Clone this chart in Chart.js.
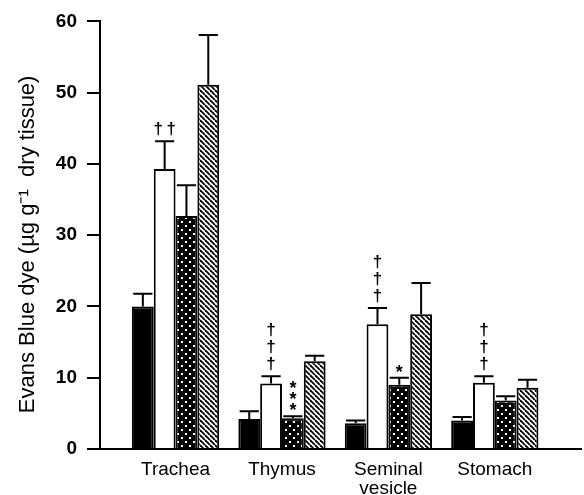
<!DOCTYPE html>
<html>
<head>
<meta charset="utf-8">
<script src="https://cdn.jsdelivr.net/npm/chart.js@4"></script>
<style>
  html, body { margin: 0; padding: 0; background: #fff; }
  canvas { display: block; }
</style>
</head>
<body>
<canvas id="dyeChart" width="584" height="495"></canvas>
<script>
const categories = ['Trachea', 'Thymus', 'Seminal vesicle', 'Stomach'];
const yTicks = [0, 10, 20, 30, 40, 50, 60];

const solidValues = [20.0, 4.2, 3.6, 4.0];
const solidErrors = [1.8, 1.1, 0.4, 0.5];
const openValues = [39.3, 9.2, 17.5, 9.3];
const openErrors = [3.9, 1.0, 2.3, 0.9];
const dottedValues = [32.7, 4.3, 9.0, 6.8];
const dottedErrors = [4.3, 0.3, 1.0, 0.6];
const stripedValues = [51.1, 12.3, 18.9, 8.6];
const stripedErrors = [7.0, 0.8, 4.4, 1.1];

// significance marks: lines stack upwards, characters in a line sit side by side
const openMarks = ['††', '†\n†\n†', '†\n†\n†', '†\n†\n†'];
const dottedMarks = ['', '*\n*\n*', '*', ''];

const fontFamily = "'Liberation Sans', Arial, Helvetica, sans-serif";
Chart.defaults.font.family = fontFamily;
Chart.defaults.color = '#000';

function dotPattern() {
    const c = document.createElement('canvas');
    c.width = 8; c.height = 8;
    const g = c.getContext('2d');
    g.fillStyle = '#000';
    g.fillRect(0, 0, 8, 8);
    g.fillStyle = '#fff';
    g.fillRect(1, 1, 2, 2);
    g.fillRect(5, 5, 2, 2);
    return g.createPattern(c, 'repeat');
}

function stripePattern() {
    const c = document.createElement('canvas');
    c.width = 5; c.height = 5;
    const g = c.getContext('2d');
    g.fillStyle = '#fff';
    g.fillRect(0, 0, 5, 5);
    g.strokeStyle = '#000';
    g.lineWidth = 1.8;
    for (const k of [-5, 0, 5]) {
        g.beginPath();
        g.moveTo(k, 0);
        g.lineTo(k + 5, 5);
        g.stroke();
    }
    return g.createPattern(c, 'repeat');
}

const series = [
    { label: 'Series 1', values: solidValues, errors: solidErrors, fill: '#000', marks: null },
    { label: 'Series 2', values: openValues, errors: openErrors, fill: '#fff', marks: openMarks },
    { label: 'Series 3', values: dottedValues, errors: dottedErrors, fill: dotPattern(), marks: dottedMarks },
    { label: 'Series 4', values: stripedValues, errors: stripedErrors, fill: stripePattern(), marks: null }
];

const errorBars = {
    id: 'errorBars',
    afterDatasetsDraw(chart) {
        const ctx = chart.ctx;
        const y = chart.scales.y;
        ctx.save();
        ctx.strokeStyle = '#000';
        ctx.lineWidth = 2;
        ctx.fillStyle = '#000';
        series.forEach((s, d) => {
            const meta = chart.getDatasetMeta(d);
            meta.data.forEach((bar, i) => {
                const top = y.getPixelForValue(s.values[i] + s.errors[i]);
                const base = y.getPixelForValue(s.values[i]);
                const half = bar.width * 0.44;
                ctx.beginPath();
                ctx.moveTo(bar.x, base);
                ctx.lineTo(bar.x, top);
                ctx.moveTo(bar.x - half, top);
                ctx.lineTo(bar.x + half, top);
                ctx.stroke();

                if (!s.marks || !s.marks[i]) return;
                const lines = s.marks[i].split('\n').reverse();
                lines.forEach((line, k) => {
                    const isStar = line.includes('*');
                    ctx.font = isStar ? 'bold 18px ' + fontFamily : 'bold 17px ' + fontFamily;
                    const step = isStar ? 11 : 17;
                    const gap = isStar ? 6 : 5;
                    const bottom = top - gap - k * step;
                    const chars = Array.from(line);
                    chars.forEach((ch, j) => {
                        const m = ctx.measureText(ch);
                        const cx = bar.x + (j - (chars.length - 1) / 2) * 13;
                        ctx.textAlign = 'center';
                        ctx.textBaseline = 'alphabetic';
                        ctx.fillText(ch, cx, bottom - m.actualBoundingBoxDescent);
                    });
                });
            });
        });
        ctx.restore();
    }
};

new Chart(document.getElementById('dyeChart'), {
    type: 'bar',
    data: {
        datasets: series.map(s => ({
            label: s.label,
            data: s.values.map((v, i) => ({ x: i + 1, y: v })),
            backgroundColor: s.fill,
            borderColor: '#000',
            borderWidth: 2,
            categoryPercentage: 0.82,
            barPercentage: 1
        }))
    },
    options: {
        responsive: false,
        animation: false,
        layout: { padding: { top: 18, right: 3, bottom: 0, left: 0 } },
        plugins: { legend: { display: false }, tooltip: { enabled: false } },
        scales: {
            x: {
                type: 'linear',
                offset: false,
                min: 0.29,
                max: 4.81,
                grid: { display: false, drawTicks: false, offset: false },
                border: { display: true, color: '#000', width: 2 },
                afterBuildTicks: scale => { scale.ticks = categories.map((c, i) => ({ value: i + 1 })); },
                afterFit: scale => { scale.height = 46; },
                ticks: {
                    autoSkip: false,
                    maxRotation: 0,
                    padding: 11,
                    font: { size: 19, lineHeight: 1.0 },
                    callback: v => categories[v - 1].split(' ')
                }
            },
            y: {
                min: 0,
                max: 60,
                afterBuildTicks: scale => { scale.ticks = yTicks.map(v => ({ value: v })); },
                afterFit: scale => { scale.width = 100; },
                grid: { drawOnChartArea: false, drawTicks: true, tickLength: 13, color: '#000', lineWidth: 2 },
                border: { display: true, color: '#000', width: 2 },
                ticks: { padding: 10, font: { size: 19, weight: 'bold' } },
                title: {
                    display: true,
                    text: 'Evans Blue dye (\u00b5g g\u207b\u00b9  dry tissue)   ',
                    font: { size: 22 },
                    padding: { top: 15, bottom: 0 }
                }
            }
        }
    },
    plugins: [errorBars]
});
</script>
</body>
</html>
